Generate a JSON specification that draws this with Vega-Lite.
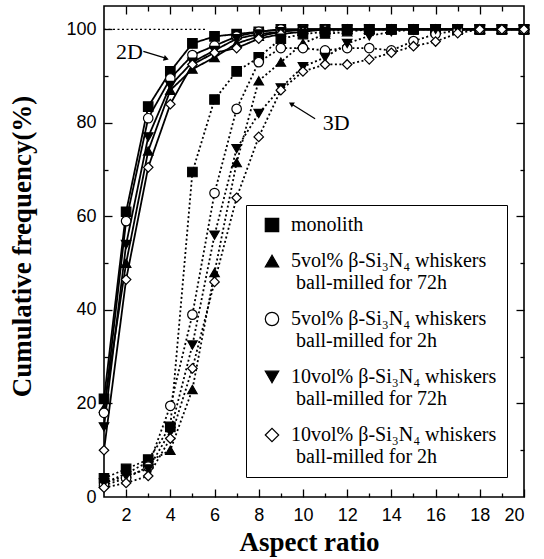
{
  "$schema": "https://vega.github.io/schema/vega-lite/v6.json",
  "width": 420,
  "height": 491,
  "autosize": {"type": "none"},
  "padding": {"left": 104, "top": 6, "right": 20, "bottom": 62},
  "background": "white",
  "config": {
    "view": {"stroke": "black", "strokeWidth": 1.6},
    "axis": {
      "domain": false, "grid": false,
      "labelFont": "Liberation Sans", "labelFontSize": 18, "labelColor": "black",
      "tickColor": "black", "tickWidth": 1.3,
      "titleFont": "Liberation Serif", "titleFontWeight": "bold", "titleFontSize": 27, "titleColor": "black"
    },
    "legend": {"labelFont": "Liberation Serif", "labelFontSize": 20}
  },
  "datasets": {
    "curves": [
      {"d":"2D","s":"monolith","x":1,"y":21},{"d":"2D","s":"monolith","x":2,"y":61},{"d":"2D","s":"monolith","x":3,"y":83.5},{"d":"2D","s":"monolith","x":4,"y":91},{"d":"2D","s":"monolith","x":5,"y":97},{"d":"2D","s":"monolith","x":6,"y":98.5},{"d":"2D","s":"monolith","x":7,"y":99},{"d":"2D","s":"monolith","x":8,"y":99.5},{"d":"2D","s":"monolith","x":9,"y":100},{"d":"2D","s":"monolith","x":10,"y":100},{"d":"2D","s":"monolith","x":11,"y":100},{"d":"2D","s":"monolith","x":12,"y":100},{"d":"2D","s":"monolith","x":13,"y":100},{"d":"2D","s":"monolith","x":14,"y":100},{"d":"2D","s":"monolith","x":15,"y":100},{"d":"2D","s":"monolith","x":16,"y":100},{"d":"2D","s":"monolith","x":17,"y":100},{"d":"2D","s":"monolith","x":18,"y":100},{"d":"2D","s":"monolith","x":19,"y":100},{"d":"2D","s":"monolith","x":20,"y":100},
      {"d":"2D","s":"5vol% β-Si₃N₄ whiskers| ball-milled for 72h","x":1,"y":19},{"d":"2D","s":"5vol% β-Si₃N₄ whiskers| ball-milled for 72h","x":2,"y":50},{"d":"2D","s":"5vol% β-Si₃N₄ whiskers| ball-milled for 72h","x":3,"y":74},{"d":"2D","s":"5vol% β-Si₃N₄ whiskers| ball-milled for 72h","x":4,"y":87},{"d":"2D","s":"5vol% β-Si₃N₄ whiskers| ball-milled for 72h","x":5,"y":91.5},{"d":"2D","s":"5vol% β-Si₃N₄ whiskers| ball-milled for 72h","x":6,"y":94},{"d":"2D","s":"5vol% β-Si₃N₄ whiskers| ball-milled for 72h","x":7,"y":97},{"d":"2D","s":"5vol% β-Si₃N₄ whiskers| ball-milled for 72h","x":8,"y":98.5},{"d":"2D","s":"5vol% β-Si₃N₄ whiskers| ball-milled for 72h","x":9,"y":99.5},{"d":"2D","s":"5vol% β-Si₃N₄ whiskers| ball-milled for 72h","x":10,"y":100},{"d":"2D","s":"5vol% β-Si₃N₄ whiskers| ball-milled for 72h","x":11,"y":100},{"d":"2D","s":"5vol% β-Si₃N₄ whiskers| ball-milled for 72h","x":12,"y":100},{"d":"2D","s":"5vol% β-Si₃N₄ whiskers| ball-milled for 72h","x":13,"y":100},{"d":"2D","s":"5vol% β-Si₃N₄ whiskers| ball-milled for 72h","x":14,"y":100},{"d":"2D","s":"5vol% β-Si₃N₄ whiskers| ball-milled for 72h","x":15,"y":100},{"d":"2D","s":"5vol% β-Si₃N₄ whiskers| ball-milled for 72h","x":16,"y":100},{"d":"2D","s":"5vol% β-Si₃N₄ whiskers| ball-milled for 72h","x":17,"y":100},{"d":"2D","s":"5vol% β-Si₃N₄ whiskers| ball-milled for 72h","x":18,"y":100},{"d":"2D","s":"5vol% β-Si₃N₄ whiskers| ball-milled for 72h","x":19,"y":100},{"d":"2D","s":"5vol% β-Si₃N₄ whiskers| ball-milled for 72h","x":20,"y":100},
      {"d":"2D","s":"5vol% β-Si₃N₄ whiskers| ball-milled for 2h","x":1,"y":18},{"d":"2D","s":"5vol% β-Si₃N₄ whiskers| ball-milled for 2h","x":2,"y":59},{"d":"2D","s":"5vol% β-Si₃N₄ whiskers| ball-milled for 2h","x":3,"y":81},{"d":"2D","s":"5vol% β-Si₃N₄ whiskers| ball-milled for 2h","x":4,"y":89.5},{"d":"2D","s":"5vol% β-Si₃N₄ whiskers| ball-milled for 2h","x":5,"y":94.5},{"d":"2D","s":"5vol% β-Si₃N₄ whiskers| ball-milled for 2h","x":6,"y":96.5},{"d":"2D","s":"5vol% β-Si₃N₄ whiskers| ball-milled for 2h","x":7,"y":98.5},{"d":"2D","s":"5vol% β-Si₃N₄ whiskers| ball-milled for 2h","x":8,"y":99.5},{"d":"2D","s":"5vol% β-Si₃N₄ whiskers| ball-milled for 2h","x":9,"y":100},{"d":"2D","s":"5vol% β-Si₃N₄ whiskers| ball-milled for 2h","x":10,"y":100},{"d":"2D","s":"5vol% β-Si₃N₄ whiskers| ball-milled for 2h","x":11,"y":100},{"d":"2D","s":"5vol% β-Si₃N₄ whiskers| ball-milled for 2h","x":12,"y":100},{"d":"2D","s":"5vol% β-Si₃N₄ whiskers| ball-milled for 2h","x":13,"y":100},{"d":"2D","s":"5vol% β-Si₃N₄ whiskers| ball-milled for 2h","x":14,"y":100},{"d":"2D","s":"5vol% β-Si₃N₄ whiskers| ball-milled for 2h","x":15,"y":100},{"d":"2D","s":"5vol% β-Si₃N₄ whiskers| ball-milled for 2h","x":16,"y":100},{"d":"2D","s":"5vol% β-Si₃N₄ whiskers| ball-milled for 2h","x":17,"y":100},{"d":"2D","s":"5vol% β-Si₃N₄ whiskers| ball-milled for 2h","x":18,"y":100},{"d":"2D","s":"5vol% β-Si₃N₄ whiskers| ball-milled for 2h","x":19,"y":100},{"d":"2D","s":"5vol% β-Si₃N₄ whiskers| ball-milled for 2h","x":20,"y":100},
      {"d":"2D","s":"10vol% β-Si₃N₄ whiskers| ball-milled for 72h","x":1,"y":15},{"d":"2D","s":"10vol% β-Si₃N₄ whiskers| ball-milled for 72h","x":2,"y":54},{"d":"2D","s":"10vol% β-Si₃N₄ whiskers| ball-milled for 72h","x":3,"y":77},{"d":"2D","s":"10vol% β-Si₃N₄ whiskers| ball-milled for 72h","x":4,"y":88},{"d":"2D","s":"10vol% β-Si₃N₄ whiskers| ball-milled for 72h","x":5,"y":93},{"d":"2D","s":"10vol% β-Si₃N₄ whiskers| ball-milled for 72h","x":6,"y":95.5},{"d":"2D","s":"10vol% β-Si₃N₄ whiskers| ball-milled for 72h","x":7,"y":98},{"d":"2D","s":"10vol% β-Si₃N₄ whiskers| ball-milled for 72h","x":8,"y":99},{"d":"2D","s":"10vol% β-Si₃N₄ whiskers| ball-milled for 72h","x":9,"y":99.5},{"d":"2D","s":"10vol% β-Si₃N₄ whiskers| ball-milled for 72h","x":10,"y":100},{"d":"2D","s":"10vol% β-Si₃N₄ whiskers| ball-milled for 72h","x":11,"y":100},{"d":"2D","s":"10vol% β-Si₃N₄ whiskers| ball-milled for 72h","x":12,"y":100},{"d":"2D","s":"10vol% β-Si₃N₄ whiskers| ball-milled for 72h","x":13,"y":100},{"d":"2D","s":"10vol% β-Si₃N₄ whiskers| ball-milled for 72h","x":14,"y":100},{"d":"2D","s":"10vol% β-Si₃N₄ whiskers| ball-milled for 72h","x":15,"y":100},{"d":"2D","s":"10vol% β-Si₃N₄ whiskers| ball-milled for 72h","x":16,"y":100},{"d":"2D","s":"10vol% β-Si₃N₄ whiskers| ball-milled for 72h","x":17,"y":100},{"d":"2D","s":"10vol% β-Si₃N₄ whiskers| ball-milled for 72h","x":18,"y":100},{"d":"2D","s":"10vol% β-Si₃N₄ whiskers| ball-milled for 72h","x":19,"y":100},{"d":"2D","s":"10vol% β-Si₃N₄ whiskers| ball-milled for 72h","x":20,"y":100},
      {"d":"2D","s":"10vol% β-Si₃N₄ whiskers| ball-milled for 2h","x":1,"y":10},{"d":"2D","s":"10vol% β-Si₃N₄ whiskers| ball-milled for 2h","x":2,"y":46.5},{"d":"2D","s":"10vol% β-Si₃N₄ whiskers| ball-milled for 2h","x":3,"y":70.5},{"d":"2D","s":"10vol% β-Si₃N₄ whiskers| ball-milled for 2h","x":4,"y":84},{"d":"2D","s":"10vol% β-Si₃N₄ whiskers| ball-milled for 2h","x":5,"y":92.5},{"d":"2D","s":"10vol% β-Si₃N₄ whiskers| ball-milled for 2h","x":6,"y":95},{"d":"2D","s":"10vol% β-Si₃N₄ whiskers| ball-milled for 2h","x":7,"y":96},{"d":"2D","s":"10vol% β-Si₃N₄ whiskers| ball-milled for 2h","x":8,"y":98},{"d":"2D","s":"10vol% β-Si₃N₄ whiskers| ball-milled for 2h","x":9,"y":99},{"d":"2D","s":"10vol% β-Si₃N₄ whiskers| ball-milled for 2h","x":10,"y":99.5},{"d":"2D","s":"10vol% β-Si₃N₄ whiskers| ball-milled for 2h","x":11,"y":100},{"d":"2D","s":"10vol% β-Si₃N₄ whiskers| ball-milled for 2h","x":12,"y":100},{"d":"2D","s":"10vol% β-Si₃N₄ whiskers| ball-milled for 2h","x":13,"y":100},{"d":"2D","s":"10vol% β-Si₃N₄ whiskers| ball-milled for 2h","x":14,"y":100},{"d":"2D","s":"10vol% β-Si₃N₄ whiskers| ball-milled for 2h","x":15,"y":100},{"d":"2D","s":"10vol% β-Si₃N₄ whiskers| ball-milled for 2h","x":16,"y":100},{"d":"2D","s":"10vol% β-Si₃N₄ whiskers| ball-milled for 2h","x":17,"y":100},{"d":"2D","s":"10vol% β-Si₃N₄ whiskers| ball-milled for 2h","x":18,"y":100},{"d":"2D","s":"10vol% β-Si₃N₄ whiskers| ball-milled for 2h","x":19,"y":100},{"d":"2D","s":"10vol% β-Si₃N₄ whiskers| ball-milled for 2h","x":20,"y":100},
      {"d":"3D","s":"monolith","x":1,"y":4},{"d":"3D","s":"monolith","x":2,"y":6},{"d":"3D","s":"monolith","x":3,"y":8},{"d":"3D","s":"monolith","x":4,"y":15},{"d":"3D","s":"monolith","x":5,"y":69.5},{"d":"3D","s":"monolith","x":6,"y":85},{"d":"3D","s":"monolith","x":7,"y":91},{"d":"3D","s":"monolith","x":8,"y":94},{"d":"3D","s":"monolith","x":9,"y":98},{"d":"3D","s":"monolith","x":10,"y":99},{"d":"3D","s":"monolith","x":11,"y":99.5},{"d":"3D","s":"monolith","x":12,"y":100},{"d":"3D","s":"monolith","x":13,"y":100},{"d":"3D","s":"monolith","x":14,"y":100},{"d":"3D","s":"monolith","x":15,"y":100},{"d":"3D","s":"monolith","x":16,"y":100},{"d":"3D","s":"monolith","x":17,"y":100},{"d":"3D","s":"monolith","x":18,"y":100},{"d":"3D","s":"monolith","x":19,"y":100},{"d":"3D","s":"monolith","x":20,"y":100},
      {"d":"3D","s":"5vol% β-Si₃N₄ whiskers| ball-milled for 72h","x":1,"y":3},{"d":"3D","s":"5vol% β-Si₃N₄ whiskers| ball-milled for 72h","x":2,"y":5},{"d":"3D","s":"5vol% β-Si₃N₄ whiskers| ball-milled for 72h","x":3,"y":7.5},{"d":"3D","s":"5vol% β-Si₃N₄ whiskers| ball-milled for 72h","x":4,"y":10},{"d":"3D","s":"5vol% β-Si₃N₄ whiskers| ball-milled for 72h","x":5,"y":23},{"d":"3D","s":"5vol% β-Si₃N₄ whiskers| ball-milled for 72h","x":6,"y":48},{"d":"3D","s":"5vol% β-Si₃N₄ whiskers| ball-milled for 72h","x":7,"y":71.5},{"d":"3D","s":"5vol% β-Si₃N₄ whiskers| ball-milled for 72h","x":8,"y":89},{"d":"3D","s":"5vol% β-Si₃N₄ whiskers| ball-milled for 72h","x":9,"y":93},{"d":"3D","s":"5vol% β-Si₃N₄ whiskers| ball-milled for 72h","x":10,"y":97},{"d":"3D","s":"5vol% β-Si₃N₄ whiskers| ball-milled for 72h","x":11,"y":99},{"d":"3D","s":"5vol% β-Si₃N₄ whiskers| ball-milled for 72h","x":12,"y":99.5},{"d":"3D","s":"5vol% β-Si₃N₄ whiskers| ball-milled for 72h","x":13,"y":100},{"d":"3D","s":"5vol% β-Si₃N₄ whiskers| ball-milled for 72h","x":14,"y":100},{"d":"3D","s":"5vol% β-Si₃N₄ whiskers| ball-milled for 72h","x":15,"y":100},{"d":"3D","s":"5vol% β-Si₃N₄ whiskers| ball-milled for 72h","x":16,"y":100},{"d":"3D","s":"5vol% β-Si₃N₄ whiskers| ball-milled for 72h","x":17,"y":100},{"d":"3D","s":"5vol% β-Si₃N₄ whiskers| ball-milled for 72h","x":18,"y":100},{"d":"3D","s":"5vol% β-Si₃N₄ whiskers| ball-milled for 72h","x":19,"y":100},{"d":"3D","s":"5vol% β-Si₃N₄ whiskers| ball-milled for 72h","x":20,"y":100},
      {"d":"3D","s":"5vol% β-Si₃N₄ whiskers| ball-milled for 2h","x":1,"y":2.5},{"d":"3D","s":"5vol% β-Si₃N₄ whiskers| ball-milled for 2h","x":2,"y":4},{"d":"3D","s":"5vol% β-Si₃N₄ whiskers| ball-milled for 2h","x":3,"y":6.5},{"d":"3D","s":"5vol% β-Si₃N₄ whiskers| ball-milled for 2h","x":4,"y":19.5},{"d":"3D","s":"5vol% β-Si₃N₄ whiskers| ball-milled for 2h","x":5,"y":39},{"d":"3D","s":"5vol% β-Si₃N₄ whiskers| ball-milled for 2h","x":6,"y":65},{"d":"3D","s":"5vol% β-Si₃N₄ whiskers| ball-milled for 2h","x":7,"y":83},{"d":"3D","s":"5vol% β-Si₃N₄ whiskers| ball-milled for 2h","x":8,"y":93},{"d":"3D","s":"5vol% β-Si₃N₄ whiskers| ball-milled for 2h","x":9,"y":96},{"d":"3D","s":"5vol% β-Si₃N₄ whiskers| ball-milled for 2h","x":10,"y":96},{"d":"3D","s":"5vol% β-Si₃N₄ whiskers| ball-milled for 2h","x":11,"y":95.5},{"d":"3D","s":"5vol% β-Si₃N₄ whiskers| ball-milled for 2h","x":12,"y":96},{"d":"3D","s":"5vol% β-Si₃N₄ whiskers| ball-milled for 2h","x":13,"y":96},{"d":"3D","s":"5vol% β-Si₃N₄ whiskers| ball-milled for 2h","x":14,"y":95.5},{"d":"3D","s":"5vol% β-Si₃N₄ whiskers| ball-milled for 2h","x":15,"y":97.5},{"d":"3D","s":"5vol% β-Si₃N₄ whiskers| ball-milled for 2h","x":16,"y":99},{"d":"3D","s":"5vol% β-Si₃N₄ whiskers| ball-milled for 2h","x":17,"y":99.8},{"d":"3D","s":"5vol% β-Si₃N₄ whiskers| ball-milled for 2h","x":18,"y":100},{"d":"3D","s":"5vol% β-Si₃N₄ whiskers| ball-milled for 2h","x":19,"y":100},{"d":"3D","s":"5vol% β-Si₃N₄ whiskers| ball-milled for 2h","x":20,"y":100},
      {"d":"3D","s":"10vol% β-Si₃N₄ whiskers| ball-milled for 72h","x":1,"y":3},{"d":"3D","s":"10vol% β-Si₃N₄ whiskers| ball-milled for 72h","x":2,"y":4.5},{"d":"3D","s":"10vol% β-Si₃N₄ whiskers| ball-milled for 72h","x":3,"y":6},{"d":"3D","s":"10vol% β-Si₃N₄ whiskers| ball-milled for 72h","x":4,"y":14},{"d":"3D","s":"10vol% β-Si₃N₄ whiskers| ball-milled for 72h","x":5,"y":32.5},{"d":"3D","s":"10vol% β-Si₃N₄ whiskers| ball-milled for 72h","x":6,"y":56},{"d":"3D","s":"10vol% β-Si₃N₄ whiskers| ball-milled for 72h","x":7,"y":74.5},{"d":"3D","s":"10vol% β-Si₃N₄ whiskers| ball-milled for 72h","x":8,"y":82},{"d":"3D","s":"10vol% β-Si₃N₄ whiskers| ball-milled for 72h","x":9,"y":87.5},{"d":"3D","s":"10vol% β-Si₃N₄ whiskers| ball-milled for 72h","x":10,"y":92},{"d":"3D","s":"10vol% β-Si₃N₄ whiskers| ball-milled for 72h","x":11,"y":94},{"d":"3D","s":"10vol% β-Si₃N₄ whiskers| ball-milled for 72h","x":12,"y":97},{"d":"3D","s":"10vol% β-Si₃N₄ whiskers| ball-milled for 72h","x":13,"y":98.6},{"d":"3D","s":"10vol% β-Si₃N₄ whiskers| ball-milled for 72h","x":14,"y":99.5},{"d":"3D","s":"10vol% β-Si₃N₄ whiskers| ball-milled for 72h","x":15,"y":100},{"d":"3D","s":"10vol% β-Si₃N₄ whiskers| ball-milled for 72h","x":16,"y":100},{"d":"3D","s":"10vol% β-Si₃N₄ whiskers| ball-milled for 72h","x":17,"y":100},{"d":"3D","s":"10vol% β-Si₃N₄ whiskers| ball-milled for 72h","x":18,"y":100},{"d":"3D","s":"10vol% β-Si₃N₄ whiskers| ball-milled for 72h","x":19,"y":100},{"d":"3D","s":"10vol% β-Si₃N₄ whiskers| ball-milled for 72h","x":20,"y":100},
      {"d":"3D","s":"10vol% β-Si₃N₄ whiskers| ball-milled for 2h","x":1,"y":2},{"d":"3D","s":"10vol% β-Si₃N₄ whiskers| ball-milled for 2h","x":2,"y":3},{"d":"3D","s":"10vol% β-Si₃N₄ whiskers| ball-milled for 2h","x":3,"y":4.5},{"d":"3D","s":"10vol% β-Si₃N₄ whiskers| ball-milled for 2h","x":4,"y":12.5},{"d":"3D","s":"10vol% β-Si₃N₄ whiskers| ball-milled for 2h","x":5,"y":27.5},{"d":"3D","s":"10vol% β-Si₃N₄ whiskers| ball-milled for 2h","x":6,"y":46},{"d":"3D","s":"10vol% β-Si₃N₄ whiskers| ball-milled for 2h","x":7,"y":64},{"d":"3D","s":"10vol% β-Si₃N₄ whiskers| ball-milled for 2h","x":8,"y":77},{"d":"3D","s":"10vol% β-Si₃N₄ whiskers| ball-milled for 2h","x":9,"y":87},{"d":"3D","s":"10vol% β-Si₃N₄ whiskers| ball-milled for 2h","x":10,"y":91},{"d":"3D","s":"10vol% β-Si₃N₄ whiskers| ball-milled for 2h","x":11,"y":92.5},{"d":"3D","s":"10vol% β-Si₃N₄ whiskers| ball-milled for 2h","x":12,"y":92.5},{"d":"3D","s":"10vol% β-Si₃N₄ whiskers| ball-milled for 2h","x":13,"y":93.6},{"d":"3D","s":"10vol% β-Si₃N₄ whiskers| ball-milled for 2h","x":14,"y":95},{"d":"3D","s":"10vol% β-Si₃N₄ whiskers| ball-milled for 2h","x":15,"y":96.4},{"d":"3D","s":"10vol% β-Si₃N₄ whiskers| ball-milled for 2h","x":16,"y":97.4},{"d":"3D","s":"10vol% β-Si₃N₄ whiskers| ball-milled for 2h","x":17,"y":99.2},{"d":"3D","s":"10vol% β-Si₃N₄ whiskers| ball-milled for 2h","x":18,"y":100},{"d":"3D","s":"10vol% β-Si₃N₄ whiskers| ball-milled for 2h","x":19,"y":100},{"d":"3D","s":"10vol% β-Si₃N₄ whiskers| ball-milled for 2h","x":20,"y":100}
    ]
  },
  "data": {"name": "curves"},
  "layer": [
    {
      "data": {"values": [{}]},
      "mark": {"type": "rule", "color": "black", "strokeWidth": 1.3, "strokeDash": [2, 2.5]},
      "encoding": {
        "x": {"datum": 1, "type": "quantitative", "axis": null},
        "x2": {"datum": 5.6},
        "y": {"datum": 100, "type": "quantitative", "axis": null}
      }
    },
    {
      "mark": {"type": "line", "color": "black", "strokeWidth": 1.8},
      "encoding": {
        "x": {"field": "x", "type": "quantitative", "scale": {"domain": [1, 20], "nice": false, "zero": false},
              "axis": {"orient": "bottom", "values": [2,4,6,8,10,12,14,16,18,20], "ticks": false, "labelPadding": 9,
                       "title": "Aspect ratio", "titleX": 205, "titleY": 53, "titleBaseline": "alphabetic"}},
        "y": {"field": "y", "type": "quantitative", "scale": {"domain": [0, 105], "nice": false},
              "axis": {"orient": "left", "values": [0,20,40,60,80,100], "ticks": false, "labelPadding": 8,
                       "title": "Cumulative frequency(%)", "titleX": -82, "titleY": 240, "titleAngle": -90, "titleBaseline": "middle"}},
        "detail": {"field": "s"},
        "strokeDash": {"field": "d", "type": "nominal", "scale": {"domain": ["2D", "3D"], "range": [[1, 0], [2, 2.5]]}, "legend": null}
      }
    },
    {
      "mark": {"type": "point", "size": 90, "strokeWidth": 1.2, "opacity": 1, "filled": true},
      "encoding": {
        "x": {"field": "x", "type": "quantitative", "axis": null},
        "y": {"field": "y", "type": "quantitative", "axis": null},
        "strokeWidth": {"value": 1.2},
        "shape": {"field": "s", "type": "nominal",
                  "scale": {"domain": ["monolith", "5vol% β-Si₃N₄ whiskers| ball-milled for 72h", "5vol% β-Si₃N₄ whiskers| ball-milled for 2h", "10vol% β-Si₃N₄ whiskers| ball-milled for 72h", "10vol% β-Si₃N₄ whiskers| ball-milled for 2h"],
                            "range": ["square", "triangle-up", "circle", "triangle-down", "diamond"]},
                  "legend": {"orient": "none", "legendX": 142, "legendY": 199, "title": null, "strokeColor": "black", "fillColor": "white", "padding": 10,
                             "labelFont": "Liberation Serif", "labelFontSize": 20, "labelColor": "black", "labelLimit": 400,
                             "symbolSize": 180, "symbolStrokeWidth": 1.2, "symbolOffset": 6, "labelOffset": 9, "rowPadding": 16,
                             "labelExpr": "split(replace(datum.label, '| ', '|\u200b\u00a0'), '|')", "labelBaseline": "middle",
                             "encode": {"labels": {"update": {"dy": {"value": 14}, "lineHeight": {"value": 28}}}}}},
        "fill": {"field": "s", "type": "nominal",
                 "scale": {"domain": ["monolith", "5vol% β-Si₃N₄ whiskers| ball-milled for 72h", "5vol% β-Si₃N₄ whiskers| ball-milled for 2h", "10vol% β-Si₃N₄ whiskers| ball-milled for 72h", "10vol% β-Si₃N₄ whiskers| ball-milled for 2h"],
                           "range": ["black", "black", "white", "black", "white"]},
                 "legend": {"orient": "none", "legendX": 142, "legendY": 199, "title": null, "strokeColor": "black", "fillColor": "white", "padding": 10,
                            "labelFont": "Liberation Serif", "labelFontSize": 20, "labelColor": "black", "labelLimit": 400,
                            "symbolSize": 180, "symbolStrokeWidth": 1.2, "symbolOffset": 6, "labelOffset": 9, "rowPadding": 16,
                            "labelExpr": "split(replace(datum.label, '| ', '|\u200b\u00a0'), '|')", "labelBaseline": "middle",
                            "encode": {"labels": {"update": {"dy": {"value": 14}, "lineHeight": {"value": 28}}}}}},
        "stroke": {"field": "s", "type": "nominal",
                 "scale": {"domain": ["monolith", "5vol% β-Si₃N₄ whiskers| ball-milled for 72h", "5vol% β-Si₃N₄ whiskers| ball-milled for 2h", "10vol% β-Si₃N₄ whiskers| ball-milled for 72h", "10vol% β-Si₃N₄ whiskers| ball-milled for 2h"],
                           "range": ["black", "black", "black", "black", "black"]},
                 "legend": {"orient": "none", "legendX": 142, "legendY": 199, "title": null, "strokeColor": "black", "fillColor": "white", "padding": 10,
                            "labelFont": "Liberation Serif", "labelFontSize": 20, "labelColor": "black", "labelLimit": 400,
                            "symbolSize": 180, "symbolStrokeWidth": 1.2, "symbolOffset": 6, "labelOffset": 9, "rowPadding": 16,
                            "labelExpr": "split(replace(datum.label, '| ', '|\u200b\u00a0'), '|')", "labelBaseline": "middle",
                            "encode": {"labels": {"update": {"dy": {"value": 14}, "lineHeight": {"value": 28}}}}}}
      }
    },
    {
      "mark": {"type": "point", "opacity": 0},
      "encoding": {
        "x": {"field": "x", "type": "quantitative", "axis": {"orient": "bottom", "values": [2,4,6,8,10,12,14,16,18,20], "labels": false, "tickSize": -8, "title": null}},
        "y": {"field": "y", "type": "quantitative", "axis": {"orient": "left", "values": [20,40,60,80,100], "labels": false, "tickSize": -8, "title": null}}
      }
    },
    {
      "mark": {"type": "point", "opacity": 0},
      "encoding": {
        "x": {"field": "x", "type": "quantitative", "axis": {"orient": "bottom", "values": [3,5,7,9,11,13,15,17,19], "labels": false, "tickSize": -4, "title": null}},
        "y": {"field": "y", "type": "quantitative", "axis": {"orient": "left", "values": [10,30,50,70,90], "labels": false, "tickSize": -4, "title": null}}
      }
    },
    {
      "mark": {"type": "point", "opacity": 0},
      "encoding": {
        "x": {"field": "x", "type": "quantitative", "axis": {"orient": "top", "values": [2,4,6,8,10,12,14,16,18], "labels": false, "tickSize": -8, "title": null}},
        "y": {"field": "y", "type": "quantitative", "axis": {"orient": "right", "values": [20,40,60,80,100], "labels": false, "tickSize": -8, "title": null}}
      }
    },
    {
      "mark": {"type": "point", "opacity": 0},
      "encoding": {
        "x": {"field": "x", "type": "quantitative", "axis": {"orient": "top", "values": [3,5,7,9,11,13,15,17,19], "labels": false, "tickSize": -5, "title": null}},
        "y": {"field": "y", "type": "quantitative", "axis": {"orient": "right", "values": [10,30,50,70,90], "labels": false, "tickSize": -4, "title": null}}
      }
    },
    {
      "data": {"values": [{}]},
      "mark": {"type": "text", "text": "2D", "font": "Liberation Serif", "fontSize": 22, "color": "black", "align": "center", "baseline": "middle"},
      "encoding": {
        "x": {"datum": 2.15, "type": "quantitative", "axis": null},
        "y": {"datum": 95.2, "type": "quantitative", "axis": null}
      }
    },
    {
      "data": {"values": [{}]},
      "mark": {"type": "rule", "color": "black", "strokeWidth": 1.3},
      "encoding": {
        "x": {"datum": 2.78, "type": "quantitative", "axis": null},
        "y": {"datum": 95.3, "type": "quantitative", "axis": null},
        "x2": {"datum": 3.75},
        "y2": {"datum": 93.9}
      }
    },
    {
      "data": {"values": [{}]},
      "mark": {"type": "point", "shape": "triangle", "filled": true, "color": "black", "size": 35, "angle": 108, "opacity": 1},
      "encoding": {
        "x": {"datum": 3.78, "type": "quantitative", "axis": null},
        "y": {"datum": 93.8, "type": "quantitative", "axis": null}
      }
    },
    {
      "data": {"values": [{}]},
      "mark": {"type": "text", "text": "3D", "font": "Liberation Serif", "fontSize": 22, "color": "black", "align": "center", "baseline": "middle"},
      "encoding": {
        "x": {"datum": 11.5, "type": "quantitative", "axis": null},
        "y": {"datum": 79.9, "type": "quantitative", "axis": null}
      }
    },
    {
      "data": {"values": [{}]},
      "mark": {"type": "rule", "color": "black", "strokeWidth": 1.3},
      "encoding": {
        "x": {"datum": 9.5, "type": "quantitative", "axis": null},
        "y": {"datum": 84.0, "type": "quantitative", "axis": null},
        "x2": {"datum": 10.55},
        "y2": {"datum": 80.9}
      }
    },
    {
      "data": {"values": [{}]},
      "mark": {"type": "point", "shape": "triangle", "filled": true, "color": "black", "size": 35, "angle": 301, "opacity": 1},
      "encoding": {
        "x": {"datum": 9.5, "type": "quantitative", "axis": null},
        "y": {"datum": 84.0, "type": "quantitative", "axis": null}
      }
    }
  ],
  "resolve": {"axis": {"x": "independent", "y": "independent"}}
}
